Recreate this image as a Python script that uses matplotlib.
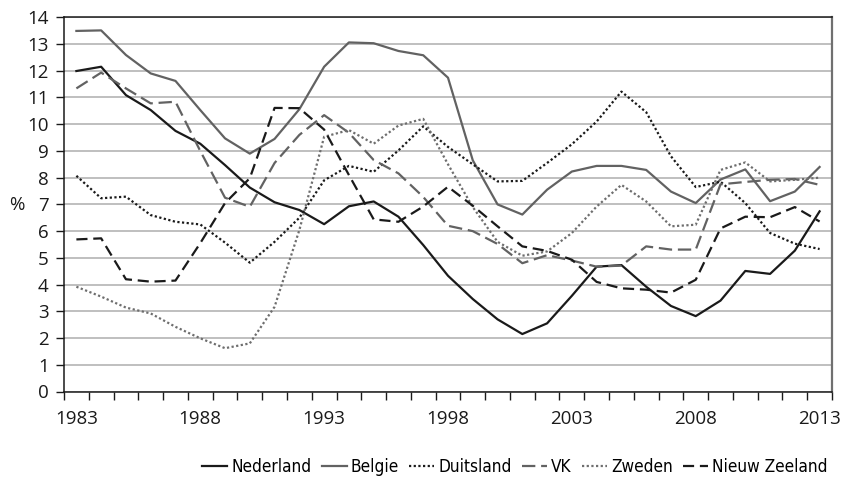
import matplotlib
matplotlib.use("Agg")
import matplotlib.pyplot as plt
from matplotlib.ticker import FixedLocator, NullFormatter
from matplotlib import font_manager

plt.rcParams['font.family'] = ['Open Sans', 'DejaVu Sans']

years = list(range(1983, 2014))
nederland = [11.99, 12.15, 11.09, 10.53, 9.75, 9.27, 8.47, 7.63, 7.08, 6.79, 6.26, 6.93, 7.11, 6.54,
             5.48, 4.33, 3.46, 2.70, 2.15, 2.55, 3.58, 4.67, 4.73, 3.92, 3.20, 2.82, 3.40, 4.51, 4.40,
             5.27, 6.74]
belgie = [13.49, 13.51, 12.59, 11.90, 11.62, 10.53, 9.47, 8.90, 9.45, 10.56, 12.15, 13.06, 13.03, 12.74,
          12.58, 11.74, 8.65, 7.00, 6.62, 7.55, 8.23, 8.44, 8.44, 8.29, 7.48, 7.05, 7.93, 8.31, 7.12,
          7.48, 8.40]
duitsland = [8.07, 7.23, 7.29, 6.60, 6.35, 6.25, 5.57, 4.82, 5.60, 6.50, 7.90, 8.44, 8.22, 9.02, 9.92,
             9.15, 8.50, 7.86, 7.88, 8.55, 9.25, 10.10, 11.22, 10.45, 8.80, 7.65, 7.85, 7.05, 5.93,
             5.53, 5.33]
vk = [11.34, 11.93, 11.34, 10.78, 10.84, 9.00, 7.25, 6.91, 8.55, 9.60, 10.34, 9.68, 8.66, 8.16, 7.28,
      6.20, 6.00, 5.52, 4.80, 5.10, 4.90, 4.67, 4.71, 5.43, 5.31, 5.31, 7.75, 7.84, 7.92, 7.95, 7.73]
zweden = [3.92, 3.55, 3.14, 2.92, 2.42, 1.99, 1.62, 1.80, 3.17, 6.04, 9.53, 9.78, 9.27, 9.95, 10.20,
          8.50, 6.90, 5.60, 5.08, 5.24, 5.93, 6.92, 7.73, 7.11, 6.18, 6.24, 8.29, 8.57, 7.86, 7.92, 8.00]
nieuw_zeeland = [5.69, 5.73, 4.20, 4.11, 4.15, 5.55, 7.05, 7.98, 10.61, 10.60, 9.80, 8.10, 6.44, 6.35,
                 6.92, 7.66, 6.95, 6.18, 5.43, 5.26, 4.93, 4.10, 3.86, 3.81, 3.70, 4.18, 6.10, 6.54,
                 6.52, 6.90, 6.36]
labels = ["Nederland", "Belgie", "Duitsland", "VK", "Zweden", "Nieuw Zeeland"]
label_years = [1983, 1988, 1993, 1998, 2003, 2008, 2013]

# prefer the most condensed regular face for the legend, if one is installed
rank = {'extra-condensed': 0, 'condensed': 1, 'semi-condensed': 2}
cands = [f for f in font_manager.fontManager.ttflist
         if f.stretch in rank and f.style == 'normal' and f.weight in (400, 'normal', 'regular')]
cands.sort(key=lambda f: rank[f.stretch])
if cands:
    legend_prop = font_manager.FontProperties(fname=cands[0].fname)
else:
    legend_prop = font_manager.FontProperties(family='Lato')

fig = plt.figure(figsize=(8.43, 4.83), dpi=100)
ax = fig.add_axes([64/843, 1-391.5/483, (832-64)/843, (391.5-17.3)/483])

dark = '#1a1a1a'
grey = '#626262'
lw = 1.6
ax.plot(years, nederland, color=dark, lw=lw, label=labels[0])
ax.plot(years, belgie, color=grey, lw=lw, label=labels[1])
ax.plot(years, duitsland, color=dark, lw=lw, linestyle=(0, (1, 1.1)), label=labels[2])
ax.plot(years, vk, color=grey, lw=lw, linestyle=(0, (6, 2.6)), label=labels[3])
ax.plot(years, zweden, color='#6e6e6e', lw=lw, linestyle=(0, (1, 1.1)), label=labels[4])
ax.plot(years, nieuw_zeeland, color=dark, lw=lw, linestyle=(0, (5, 2.6)), label=labels[5])

ax.set_xlim(1982.5, 2013.5)
ax.set_ylim(0, 14)
ax.set_yticks(range(0, 15))
ax.yaxis.grid(True, color='#b4b4b4', lw=1.2)
ax.set_axisbelow(True)
ax.set_xticks(label_years)
ax.set_xticklabels([str(y) for y in label_years])
ax.xaxis.set_minor_locator(FixedLocator([1982.5 + i for i in range(32)]))
ax.xaxis.set_minor_formatter(NullFormatter())
ax.tick_params(axis='x', which='major', length=0, pad=13, labelsize=13.5, colors='#1a1a1a')
ax.tick_params(axis='x', which='minor', length=6, width=1, color='#1a1a1a', direction='out')
ax.tick_params(axis='y', length=6, width=1, pad=5, labelsize=13.5, color='#1a1a1a', labelcolor='#1a1a1a')

for s in ['left', 'bottom', 'top']:
    ax.spines[s].set_color('#1a1a1a')
    ax.spines[s].set_linewidth(1.1)
ax.spines['right'].set_color('#707070')
ax.spines['right'].set_linewidth(1.6)

fig.text(17/843, 1-205/483, '%', fontsize=13.5, ha='center', va='center', color='#1a1a1a')

# legend: size chosen so it spans roughly 258..827 px, allowed a bit wider for legible text
target_w = (827 - 258) * 1.1
size = 13.0
renderer = fig.canvas.get_renderer()
leg = None
for _ in range(4):
    if leg is not None:
        leg.remove()
    legend_prop.set_size(size)
    leg = fig.legend(loc='center right', bbox_to_anchor=(828/843, 1-467/483), ncol=6, frameon=False,
                     handlelength=1.45, handletextpad=0.25, columnspacing=0.6,
                     prop=legend_prop, borderaxespad=0, borderpad=0)
    w = leg.get_window_extent(renderer).width
    size = min(13.0, size * target_w / w)

fig.savefig('out.png', dpi=100)
